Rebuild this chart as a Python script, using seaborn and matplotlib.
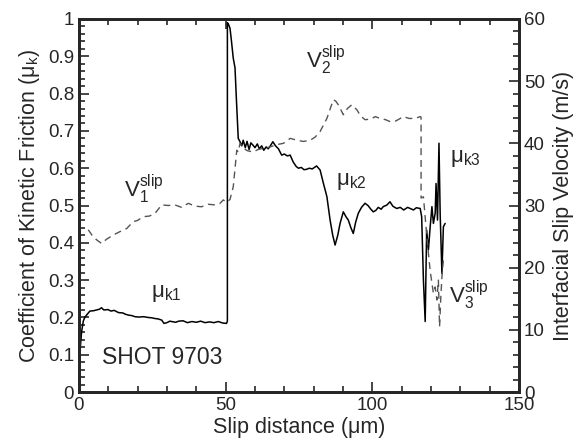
import numpy as np
import pandas as pd
import matplotlib
matplotlib.use("Agg")
import matplotlib.pyplot as plt
from matplotlib.ticker import MultipleLocator
import seaborn as sns

# friction coefficient trace (slip distance in um, mu_k)
mu_x = [0.0, 0.2, 0.5, 0.9, 1.5, 2.0, 3.0, 3.75, 5.0, 6.0, 7.0, 7.7, 8.5, 9.9, 11.0, 12.0,
        13.5, 15.0, 15.7, 17.0, 18.0, 19.1, 20.5, 22.0, 23.5, 24.8, 26.0, 27.0, 28.2, 29.0,
        30.0, 31.0, 31.6, 33.0, 34.0, 35.5, 37.0, 38.5, 40.0, 41.5, 43.0, 44.5, 46.0, 47.5,
        49.0, 50.3, 50.6, 50.6, 51.0, 51.5, 52.0, 52.6, 53.2, 53.7, 54.3, 54.9, 55.5, 56.0,
        56.7, 57.3, 58.0, 58.6, 59.3, 60.0, 60.8, 61.5, 62.3, 63.0, 63.8, 64.5, 65.1, 66.1,
        67.0, 68.0, 69.1, 70.0, 71.0, 72.0, 73.0, 74.0, 74.8, 75.8, 76.7, 77.6, 78.5, 79.5,
        81.0, 82.2, 83.3, 84.5, 85.6, 86.5, 87.3, 88.2, 89.0, 90.1, 91.0, 91.8, 92.7, 93.5,
        94.3, 95.2, 96.3, 97.5, 98.5, 99.5, 100.3, 101.2, 102.0, 103.0, 103.7, 104.9, 106.0,
        107.0, 108.3, 109.5, 110.7, 112.0, 112.9, 114.0, 115.0, 116.3, 116.8, 117.4, 118.0,
        118.5, 119.1, 119.7, 120.3, 120.8, 121.4, 121.7, 122.2, 122.7, 123.1, 123.7, 124.2,
        124.8]
mu_k = [0.0, 0.05, 0.12, 0.16, 0.19, 0.20, 0.21, 0.217, 0.218, 0.22, 0.222, 0.226, 0.220,
        0.221, 0.217, 0.219, 0.213, 0.212, 0.209, 0.206, 0.205, 0.202, 0.201, 0.202, 0.200,
        0.199, 0.197, 0.196, 0.193, 0.184, 0.186, 0.190, 0.189, 0.187, 0.190, 0.191, 0.186,
        0.189, 0.187, 0.190, 0.186, 0.188, 0.186, 0.189, 0.185, 0.184, 0.19, 0.99, 0.985,
        0.975, 0.94, 0.895, 0.869, 0.78, 0.68, 0.671, 0.66, 0.675, 0.655, 0.672, 0.65, 0.668,
        0.662, 0.655, 0.665, 0.652, 0.66, 0.648, 0.657, 0.652, 0.658, 0.671, 0.66, 0.652,
        0.635, 0.638, 0.633, 0.635, 0.617, 0.605, 0.600, 0.602, 0.596, 0.597, 0.600, 0.598,
        0.606, 0.595, 0.56, 0.524, 0.461, 0.42, 0.394, 0.42, 0.452, 0.483, 0.47, 0.461, 0.44,
        0.425, 0.455, 0.479, 0.495, 0.506, 0.50, 0.49, 0.483, 0.487, 0.495, 0.49, 0.497,
        0.501, 0.51, 0.498, 0.492, 0.495, 0.488, 0.495, 0.492, 0.488, 0.494, 0.492, 0.47,
        0.30, 0.189, 0.434, 0.381, 0.443, 0.497, 0.452, 0.479, 0.559, 0.461, 0.667, 0.479,
        0.318, 0.443, 0.452]

# interfacial slip velocity trace (slip distance in um, m/s)
v_x = [3.2, 4.5, 6.0, 7.7, 9.5, 11.7, 14.0, 16.3, 18.5, 20.0, 21.9, 24.0, 25.9, 28.2, 30.5,
       32.7, 35.0, 37.3, 39.5, 41.8, 44.0, 46.4, 48.0, 49.2, 50.4, 51.5, 52.6, 53.8, 54.3,
       54.9, 56.0, 57.5, 59.4, 61.0, 62.8, 65.0, 67.5, 69.7, 72.0, 74.2, 76.5, 78.8, 80.5,
       82.2, 84.5, 86.7, 87.5, 88.4, 90.1, 91.5, 93.0, 94.7, 96.0, 97.5, 99.5, 101.0, 102.6,
       104.5, 106.0, 108.0, 110.6, 112.5, 114.6, 116.3, 116.6, 116.6, 117.4, 118.2, 119.1,
       119.7, 120.3, 120.8, 121.4, 122.0, 122.5, 122.9, 123.3, 123.7, 124.2]
v_slip = [26.1, 25.2, 24.5, 23.9, 24.6, 25.25, 25.8, 26.3, 27.4, 27.6, 28.2, 28.3, 28.7,
          30.1, 30.0, 30.1, 29.7, 30.35, 29.9, 29.8, 30.2, 30.1, 30.3, 30.9, 30.5, 31.0,
          33.0, 38.9, 38.6, 40.0, 39.2, 38.8, 38.6, 39.0, 39.2, 39.4, 39.8, 40.0, 40.8, 40.5,
          40.3, 40.5, 41.0, 41.9, 44.0, 47.0, 46.8, 46.2, 44.6, 45.6, 46.2, 45.4, 44.4, 43.8,
          43.9, 44.3, 44.0, 43.8, 43.5, 43.6, 44.3, 44.0, 44.0, 44.3, 44.2, 31.2, 31.4, 27.0,
          22.3, 19.5, 17.5, 15.9, 16.9, 14.8, 18.0, 10.5, 15.0, 18.5, 21.2]

mu_df = pd.DataFrame({"x": mu_x, "mu": mu_k})
v_df = pd.DataFrame({"x": v_x, "v": v_slip})

sns.set_style("ticks")
plt.rcParams["font.family"] = ["Liberation Sans", "DejaVu Sans"]
plt.rcParams["mathtext.fontset"] = "custom"
plt.rcParams["mathtext.rm"] = "Liberation Sans"
plt.rcParams["mathtext.it"] = "Liberation Sans"

fig = plt.figure(figsize=(5.8, 4.41), dpi=100)
ax = fig.add_axes([0.136, 0.111, 0.759, 0.846])
ax2 = ax.twinx()

sns.lineplot(data=mu_df, x="x", y="mu", ax=ax, color="black", linewidth=1.1,
             sort=False, estimator=None)
sns.lineplot(data=v_df, x="x", y="v", ax=ax2, color="#555555", linewidth=1.0,
             sort=False, estimator=None, dashes=False)
ax2.lines[0].set_linestyle((0, (5, 3.5)))

ax.set_xlim(0, 150)
ax.set_ylim(0, 1)
ax2.set_ylim(0, 60)
ax.xaxis.set_major_locator(MultipleLocator(50))
ax.xaxis.set_minor_locator(MultipleLocator(10))
ax.yaxis.set_minor_locator(MultipleLocator(0.02))
ax2.yaxis.set_major_locator(MultipleLocator(10))
ax2.yaxis.set_minor_locator(MultipleLocator(2))
ax.set_yticks(np.arange(0, 1.01, 0.1))
ax.set_yticklabels(["0", "0.1", "0.2", "0.3", "0.4", "0.5", "0.6", "0.7", "0.8", "0.9", "1"])

for a in (ax, ax2):
    for s in a.spines.values():
        s.set_visible(True)
        s.set_linewidth(2)
ax.tick_params(which="both", direction="in", top=True, right=False, labelsize=13.5, width=1.2)
ax.tick_params(which="major", length=7)
ax.tick_params(which="minor", length=4)
ax2.tick_params(which="both", direction="in", labelsize=13.5, width=1.2)
ax2.tick_params(which="major", length=7)
ax2.tick_params(which="minor", length=4)

ax.set_xlabel("Slip distance (μm)", fontsize=15.5, labelpad=2)
ax.set_ylabel(r"Coefficient of Kinetic Friction ($\mathregular{μ_k}$)", fontsize=15.5, labelpad=4)
ax2.set_ylabel("Interfacial Slip Velocity (m/s)", fontsize=15.5, labelpad=6)

ax.text(15.5, 0.545, r"$\mathregular{V_1^{slip}}$", fontsize=16, ha="left", va="center")
ax.text(77.5, 0.89, r"$\mathregular{V_2^{slip}}$", fontsize=16, ha="left", va="center")
ax.text(126, 0.26, r"$\mathregular{V_3^{slip}}$", fontsize=16, ha="left", va="center")
ax.text(24.5, 0.265, r"$\mathregular{μ_{k1}}$", fontsize=16, ha="left", va="center")
ax.text(87.5, 0.565, r"$\mathregular{μ_{k2}}$", fontsize=16, ha="left", va="center")
ax.text(126.5, 0.625, r"$\mathregular{μ_{k3}}$", fontsize=16, ha="left", va="center")
ax.text(7.8, 0.092, "SHOT 9703", fontsize=16.5, ha="left", va="center")

fig.savefig("out.png", dpi=100)
plt.close(fig)
